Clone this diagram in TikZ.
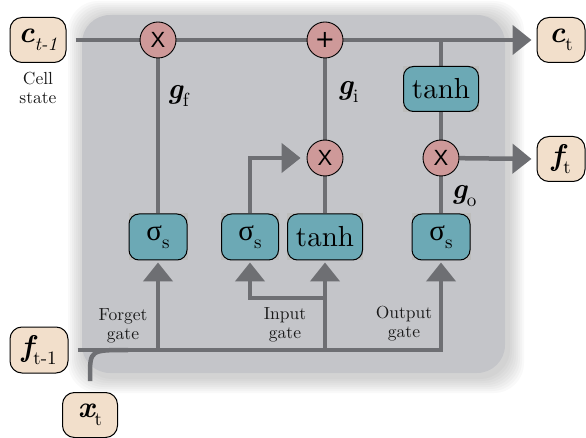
\documentclass[tikz,border=0pt]{standalone}
\usepackage{fontspec}
\setmainfont{lmroman10-regular.otf}[BoldFont=lmroman10-bold.otf,ItalicFont=lmroman10-italic.otf,BoldItalicFont=lmroman10-bolditalic.otf]
\newfontfamily\grk{Liberation Serif}
\newfontfamily\sansx{Liberation Sans}
\newfontfamily\dejav{DejaVu Sans}
\usetikzlibrary{arrows.meta,calc}
\pgfdeclarelayer{back}
\pgfdeclarelayer{bg}
\pgfsetlayers{back,bg,main}
\definecolor{bggray}{HTML}{C4C5C9}
\definecolor{linegray}{HTML}{6E6F73}
\definecolor{gteal}{HTML}{6CA9B5}
\definecolor{opink}{HTML}{CE9999}
\definecolor{iobeige}{HTML}{F2DFCB}
\definecolor{backing}{HTML}{BDBDBC}
\newcommand\sbs[1]{\raisebox{-0.26em}{\fontsize{19}{20}\selectfont #1}}
\begin{document}
\begin{tikzpicture}[x=1pt,y=-1pt,
  conn/.style={draw=linegray,line width=4.5pt},
  tip/.style={-{Triangle[length=19pt,width=29pt]}},
  opc/.style={circle,minimum size=36pt,inner sep=0pt,fill=opink,draw=black,line width=0.9pt},
  gatebox/.style={rounded corners=10pt,fill=gteal,draw=black,line width=1pt,minimum height=46pt,inner sep=0pt,font=\fontsize{29}{32}\selectfont},
  iobox/.style={rounded corners=12pt,fill=iobeige,draw=black,line width=1pt,minimum height=45pt,inner sep=0pt,font=\fontsize{30}{32}\selectfont},
  lbl/.style={font=\fontsize{17.5}{19}\selectfont,align=center,text=black!90},
  glbl/.style={font=\fontsize{29}{32}\selectfont}]
\useasboundingbox (0,0) rectangle (586,438);
% background
\begin{pgfonlayer}{back}
\foreach \i in {16,14,...,2}{
  \fill[black,opacity=0.022,rounded corners=30pt] ($(82,15)+(-\i+2,-\i+2)$) rectangle ($(505,373)+(\i+3,\i+4)$);
}
\fill[bggray,rounded corners=28pt] (82,15) rectangle (505,373);
\end{pgfonlayer}
% io nodes
\node[iobox,minimum width=56pt] (ctm1) at (38,40) {{\bfseries\itshape c}\sbs{\itshape t-1}};
\node[iobox,minimum width=48pt] (ct) at (561,40) {{\bfseries\itshape c}\sbs{t}};
\node[iobox,minimum width=48pt] (ft) at (561,159) {{\bfseries\itshape f}\sbs{t}};
\node[iobox,minimum width=58pt,minimum height=46pt] (ftm1) at (39,350) {{\bfseries\itshape f}\sbs{t-1}};
\node[iobox,minimum width=55pt] (xt) at (90,415) {{\bfseries\itshape x}\sbs{t}};
% operators
\node[opc,font=\sansx\fontsize{22}{22}\selectfont] (mf) at (158,40) {X};
\node[opc,font=\dejav\fontsize{24}{24}\selectfont] (add) at (325,40) {+};
\node[opc,font=\sansx\fontsize{22}{22}\selectfont] (mi) at (325,158) {X};
\node[opc,font=\sansx\fontsize{22}{22}\selectfont] (mo) at (441,158) {X};
% gates
\node[gatebox,minimum width=75pt,minimum height=45pt] (tc) at (441,89) {tanh};
\node[gatebox,minimum width=58pt] (sf) at (158,237) {{\grk σ}\sbs{s}};
\node[gatebox,minimum width=57pt] (si) at (250,237) {{\grk σ}\sbs{s}};
\node[gatebox,minimum width=75pt] (ti) at (325,237) {tanh};
\node[gatebox,minimum width=58pt] (so) at (441,237) {{\grk σ}\sbs{s}};
% labels
\node[glbl] (gf) at (178,96) {{\bfseries\itshape g}\sbs{f}};
\node[glbl] (gi) at (348,92) {{\bfseries\itshape g}\sbs{i}};
\node[glbl] (go) at (464,196) {{\bfseries\itshape g}\sbs{o}};
\node[lbl] (cs) at (38,88) {Cell\\state};
\node[lbl] (fg) at (123,326) {Forget\\gate};
\node[lbl] (ig) at (285,325) {Input\\gate};
\node[lbl] (og) at (404,324) {Output\\gate};
\coordinate (ib) at (325,298);
\coordinate (xj) at (128,350);
% connectors
\begin{pgfonlayer}{bg}
\foreach \n in {tc,sf,si,ti,so}{\fill[backing] (\n.south west) rectangle (\n.north east);}
\draw[conn,tip,shorten <=9pt,shorten >=5pt] (ctm1.east) -- (ct.west);
\draw[conn] (mf) -- (sf);
\draw[conn] (add) -- (mi);
\draw[conn] (mi) -- (ti);
\draw[conn] (tc.north |- ctm1.east) -- (tc);
\draw[conn] (tc) -- (mo);
\draw[conn] (mo) -- (so);
\draw[conn,tip,shorten >=5pt] (mo) -- (ft.west);
\draw[conn,tip,shorten >=6pt] (si.north) |- (mi.west);
\draw[conn,tip,shorten <=9pt,shorten >=2pt] (ftm1.east) -| (so.south);
\draw[conn,tip,shorten >=2pt] (sf.south |- ftm1.east) -- (sf.south);
\draw[conn,tip,shorten >=2pt] (ti.south |- ftm1.east) -- (ti.south);
\draw[conn,tip,shorten >=2pt] (ib) -| (si.south);
\draw[conn,shorten <=11pt] (xt.north) -- ++(0,-15) .. controls (90,350) .. (xj);
\end{pgfonlayer}
\end{tikzpicture}
\end{document}
